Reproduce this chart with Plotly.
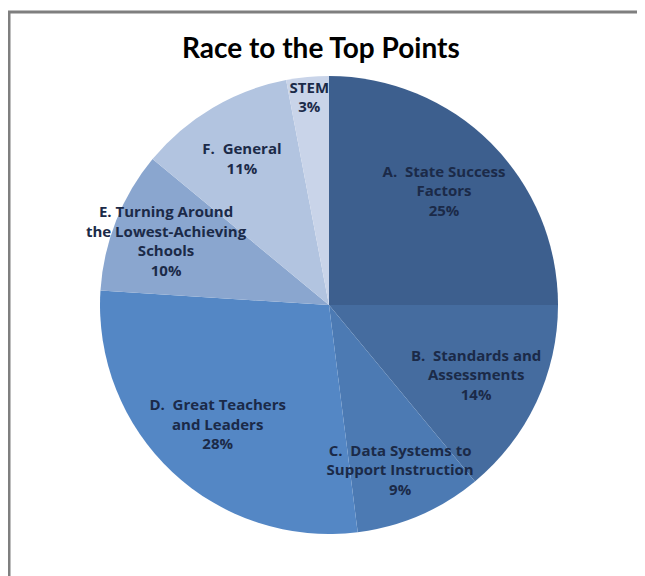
import plotly.graph_objects as go

labels = [
    "A.  State Success<br>Factors",
    "B.  Standards and<br>Assessments",
    "C.  Data Systems to<br>Support Instruction",
    "D.  Great Teachers<br>and Leaders",
    "E. Turning Around<br>the Lowest-Achieving<br>Schools",
    "F.  General",
    "STEM",
]
values = [25, 14, 9, 28, 10, 11, 3]
colors = ["#3D5F8E", "#456C9F", "#4C7AB3", "#5487C5", "#8AA6CF", "#B2C4E0", "#C9D4E9"]

# page body has an 8px margin; work in screen pixels and shift
OFF = 8
W, H = 645 - OFF, 576 - OFF


def px(x):
    return (x - OFF) / W


def py(y):
    return 1 - (y - OFF) / H


cx, cy, r = 329, 305, 229
dom = dict(x=[px(cx - r), px(cx + r)], y=[py(cy + r), py(cy - r)])

# coloured slices
fig = go.Figure(go.Pie(
    labels=labels,
    values=values,
    sort=False,
    direction="clockwise",
    rotation=0,
    marker=dict(colors=colors, line=dict(width=0)),
    textinfo="none",
    domain=dom,
    showlegend=False,
    hoverinfo="label+percent",
))

# transparent copy carrying the labels so no slice covers a neighbour's text
fig.add_trace(go.Pie(
    labels=labels,
    values=values,
    sort=False,
    direction="clockwise",
    rotation=0,
    hole=0.42,
    marker=dict(colors=["rgba(0,0,0,0)"] * len(values), line=dict(width=0)),
    texttemplate="%{label}<br>%{percent:.0%}",
    textposition="inside",
    insidetextorientation="horizontal",
    textfont=dict(family="Open Sans", size=15, color="#1B2A48", weight="bold"),
    domain=dom,
    showlegend=False,
    hoverinfo="skip",
))

fig.update_layout(
    width=W, height=H,
    margin=dict(l=0, r=0, t=0, b=0),
    paper_bgcolor="white",
    uniformtext=dict(minsize=15, mode="show"),
    annotations=[dict(
        text="Race to the Top Points", x=px(321), y=py(47),
        xref="paper", yref="paper", xanchor="center", yanchor="middle",
        showarrow=False, font=dict(family="Lato", size=28, color="#000000", weight="bold"),
    )],
    shapes=[
        dict(type="line", xref="paper", yref="paper", x0=px(8), x1=1, y0=py(12), y1=py(12),
             line=dict(color="#7F7F7F", width=3)),
        dict(type="line", xref="paper", yref="paper", x0=px(9), x1=px(9), y0=0, y1=py(12),
             line=dict(color="#7F7F7F", width=3)),
    ],
)

fig.write_html("out.html")
